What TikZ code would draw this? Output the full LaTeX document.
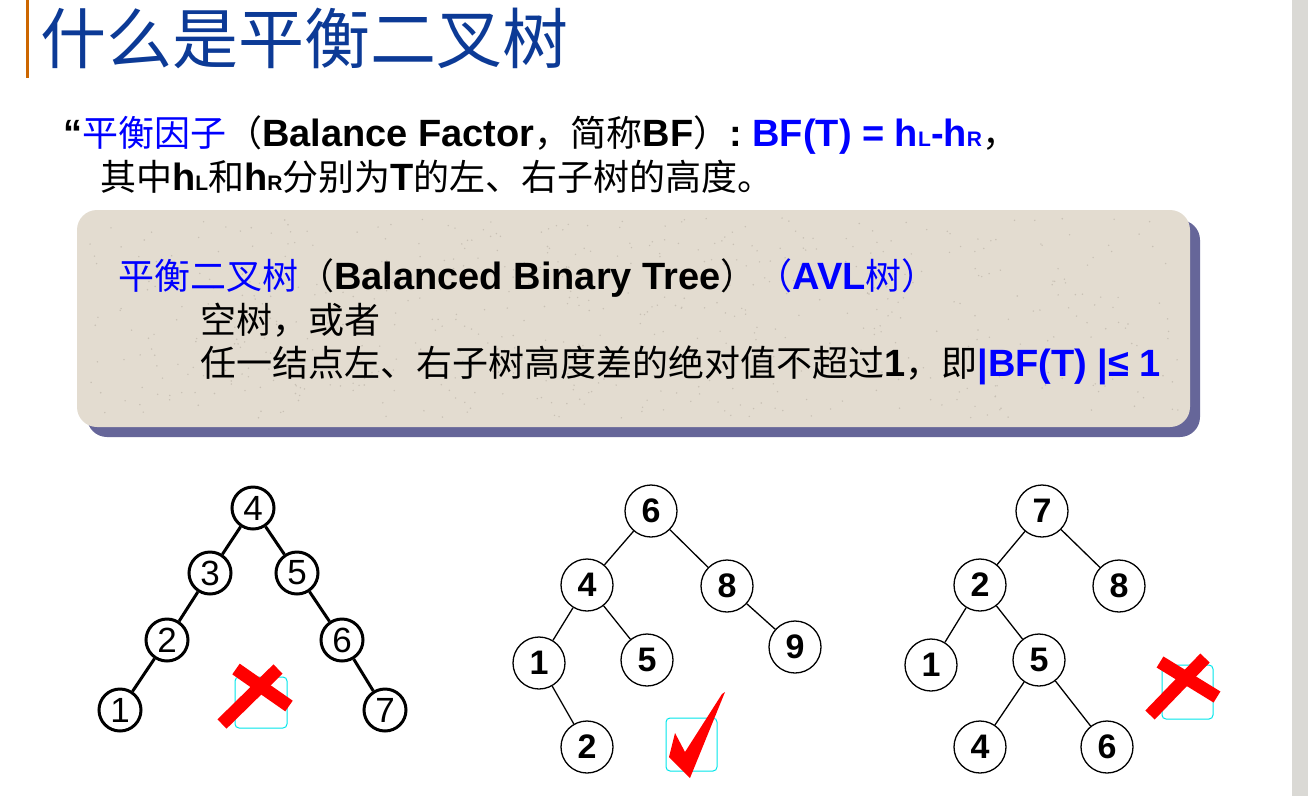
\documentclass[tikz,border=0pt]{standalone}
\usepackage{fontspec}
\setmainfont{Liberation Sans}
\newfontfamily\cjk[Scale=0.9474]{Noto Sans CJK SC}
\newfontfamily\cjktitle{Noto Sans CJK SC}
\definecolor{titleblue}{RGB}{12,58,150}
\definecolor{boxfill}{RGB}{227,220,208}
\definecolor{boxdot}{RGB}{200,192,180}
\definecolor{shadowc}{RGB}{102,102,153}
\definecolor{graystrip}{RGB}{218,217,213}
\definecolor{orangeline}{RGB}{204,102,0}
\definecolor{pureblue}{RGB}{0,0,255}
\definecolor{cyanbox}{RGB}{0,230,235}
\newcommand\cj[1]{{\cjk\mdseries #1}}
\newcommand\lsub[1]{{\fontsize{21}{21}\selectfont #1}}
\tikzset{
  txt/.style={anchor=base west, inner sep=0pt, font=\fontsize{38}{45}\selectfont},
  tnodeA/.style={circle, draw, line width=3pt, minimum size=42pt, inner sep=0pt, font=\fontsize{35}{35}\selectfont},
  tnodeB/.style={circle, draw, line width=1.3pt, minimum size=52pt, inner sep=0pt, font=\fontsize{34}{34}\selectfont\bfseries},
  edgeA/.style={line width=3pt},
  edgeB/.style={line width=1.3pt},
  xmark/.style={draw=red, line width=13pt},
  cbox/.style={draw=cyanbox, line width=1pt, rounded corners=4pt}
}
\begin{document}
\begin{tikzpicture}[x=1pt,y=-1pt]
\useasboundingbox (0,0) rectangle (1308,796);
\fill[white] (0,0) rectangle (1308,796);
\fill[graystrip] (1292,0) rectangle (1308,796);
\draw[orangeline, line width=3pt] (27,0) -- (27,78);

% title
\node[anchor=base west, inner sep=0pt, text=titleblue, font=\fontsize{66}{70}\selectfont] (title) at (40,63) {\cjktitle 什么是平衡二叉树};

% definition lines
\node[txt] (l1) at (63,146) {\bfseries “\cj{\color{pureblue}平衡因子}\cj{（}Balance Factor\cj{，简称}BF\cj{）}: {\color{pureblue}BF(T) = h\lsub{L}-h\lsub{R}}\cj{，}};
\node[txt] (l2) at (100,190) {\bfseries\cj{其中}h\lsub{L}\cj{和}h\lsub{R}\cj{分别为}T\cj{的左、右子树的高度。}};

% box
\fill[shadowc, rounded corners=20pt] (87,220) rectangle (1200,437);
\fill[boxfill, rounded corners=20pt] (77,210) rectangle (1190,427);
\pgfmathsetseed{7}
\foreach \i in {1,...,600}{
  \pgfmathsetmacro\px{90+rnd*1090}
  \pgfmathsetmacro\py{218+rnd*200}
  \fill[boxdot] (\px,\py) circle (0.8);
}
\node[txt] (b1) at (118,289) {\bfseries\cj{\color{pureblue}平衡二叉树}\cj{（}Balanced Binary Tree\cj{）}{\color{pureblue}\cj{（}AVL\cj{树）}}};
\node[txt] (b2) at (200,333) {\cj{空树，或者}};
\node[txt] (b3) at (200,376) {\bfseries\cj{任一结点左、右子树高度差的绝对值不超过}1\cj{，即}{\color{pureblue}|BF(T) |≤ 1}};

% tree 1
\node[tnodeA] (a4) at (253,508) {4};
\node[tnodeA] (a3) at (210,573) {3};
\node[tnodeA] (a5) at (297,573) {5};
\node[tnodeA] (a2) at (167,640) {2};
\node[tnodeA] (a6) at (342,640) {6};
\node[tnodeA] (a1) at (120,710) {1};
\node[tnodeA] (a7) at (385,710) {7};
\draw[edgeA] (a4) -- (a3);
\draw[edgeA] (a4) -- (a5);
\draw[edgeA] (a3) -- (a2);
\draw[edgeA] (a2) -- (a1);
\draw[edgeA] (a5) -- (a6);
\draw[edgeA] (a6) -- (a7);
\draw[cbox] (235,677) rectangle (287,728);
\draw[xmark] (236,669) -- (289,706);
\draw[xmark] (278,669) -- (222,724);

% tree 2
\node[tnodeB] (b6) at (651,511) {6};
\node[tnodeB] (b4) at (587,585) {4};
\node[tnodeB] (b8) at (727,586) {8};
\node[tnodeB] (bb1) at (539,663) {1};
\node[tnodeB] (b5) at (647,660) {5};
\node[tnodeB] (b9) at (795,647) {9};
\node[tnodeB] (bb2) at (587,747) {2};
\draw[edgeB] (b6) -- (b4);
\draw[edgeB] (b6) -- (b8);
\draw[edgeB] (b4) -- (bb1);
\draw[edgeB] (b4) -- (b5);
\draw[edgeB] (b8) -- (b9);
\draw[edgeB] (bb1) -- (bb2);
\draw[cbox] (666,718) rectangle (717,771);
\fill[red] (669,757) -- (675,733) -- (685,752) -- (722,694) -- (725,692) -- (690,778) -- cycle;

% tree 3
\node[tnodeB] (c7) at (1042,511) {7};
\node[tnodeB] (c2) at (980,585) {2};
\node[tnodeB] (c8) at (1119,586) {8};
\node[tnodeB] (c1) at (931,665) {1};
\node[tnodeB] (c5) at (1039,660) {5};
\node[tnodeB] (c4) at (980,747) {4};
\node[tnodeB] (c6) at (1107,747) {6};
\draw[edgeB] (c7) -- (c2);
\draw[edgeB] (c7) -- (c8);
\draw[edgeB] (c2) -- (c1);
\draw[edgeB] (c2) -- (c5);
\draw[edgeB] (c5) -- (c4);
\draw[edgeB] (c5) -- (c6);
\draw[cbox] (1162,665) rectangle (1213,719);
\draw[xmark] (1160,662) -- (1217,697);
\draw[xmark] (1205,658) -- (1150,715);
\end{tikzpicture}
\end{document}
